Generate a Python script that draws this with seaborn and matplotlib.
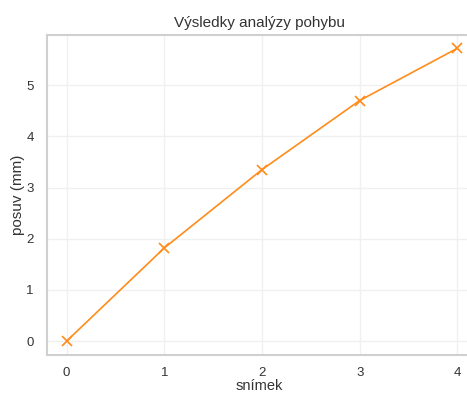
import matplotlib
matplotlib.use("Agg")
import matplotlib.pyplot as plt
import seaborn as sns
import pandas as pd

frames = [0, 1, 2, 3, 4]
displacement = [0.0, 1.82, 3.35, 4.70, 5.72]

df = pd.DataFrame({"snímek": frames, "posuv (mm)": displacement})

sns.set_theme(style="whitegrid")
plt.rcParams["font.family"] = ["Liberation Sans", "DejaVu Sans"]

fig = plt.figure(figsize=(4.67, 3.94), dpi=100)
ax = fig.add_axes([47/467, 1 - 355/394, 425/467, 320/394])
sns.lineplot(data=df, x="snímek", y="posuv (mm)", marker="x", color="#ff8c1a",
             markeredgecolor="#ff8c1a", markersize=7, mew=1.2, linewidth=1.2, ax=ax)
ax.set_xlim(-0.2, 4.15)
ax.set_ylim(-0.27, 5.98)
ax.set_xticks(frames)
ax.set_yticks([0, 1, 2, 3, 4, 5])
ax.set_title("Výsledky analýzy pohybu", fontsize=11, color="#333333")
ax.set_xlabel("snímek", fontsize=10.5, color="#333333", labelpad=0)
ax.set_ylabel("posuv (mm)", fontsize=11, color="#333333", labelpad=1)
ax.tick_params(labelsize=9.5, colors="#333333")
ax.tick_params(axis="x", pad=3)
ax.grid(color="#f0f0f0", linewidth=1)
for s in ax.spines.values():
    s.set_color("#d0d0d0")
    s.set_linewidth(1.5)
fig.savefig("out.png", dpi=100)
